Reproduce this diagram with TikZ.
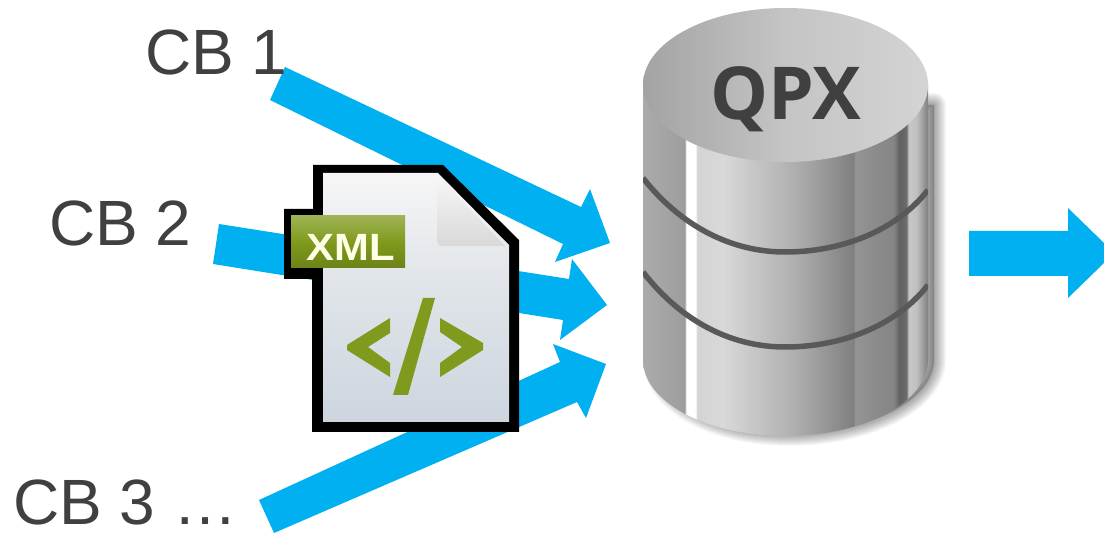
\documentclass[tikz,border=0pt]{standalone}
\usepackage{fontspec}
\setmainfont{Liberation Sans}
\newfontfamily\qpxfont{Open Sans}
\usetikzlibrary{shadings}
\definecolor{arrowblue}{HTML}{00B0F0}
\definecolor{labelgray}{HTML}{404040}
\definecolor{bandgray}{HTML}{58595B}
\definecolor{xmlgreen}{HTML}{7F9A1C}
\definecolor{pagelow}{HTML}{CDD5DF}
\definecolor{pagemid}{HTML}{E2E6EA}
\definecolor{pagetop}{HTML}{F6F6F6}
\pgfdeclarehorizontalshading{cylbody}{100bp}{
 color(0bp)=(black!30);
 color(25bp)=(black!33);
 color(31.9bp)=(black!38);
 color(32.3bp)=(black!40);
 color(32.6bp)=(white);
 color(34.2bp)=(white);
 color(34.5bp)=(black!17);
 color(39bp)=(black!15);
 color(52bp)=(black!32);
 color(62bp)=(black!50);
 color(62.2bp)=(black!42);
 color(69bp)=(black!48);
 color(70bp)=(black!62);
 color(71.2bp)=(black!58);
 color(71.6bp)=(black!22);
 color(73bp)=(black!25);
 color(75bp)=(black!50);
 color(100bp)=(black!50)}
\pgfdeclarehorizontalshading{cyltop}{100bp}{
 color(0bp)=(black!36);
 color(25bp)=(black!36);
 color(50bp)=(black!23);
 color(75bp)=(black!17);
 color(100bp)=(black!17)}
\pgfdeclareverticalshading{pagefill}{100bp}{
 color(0bp)=(pagelow);
 color(25bp)=(pagelow);
 color(55bp)=(pagemid);
 color(75bp)=(pagetop);
 color(100bp)=(pagetop)}
\pgfdeclareverticalshading{tagfill}{100bp}{
 color(0bp)=(xmlgreen!85!black);
 color(25bp)=(xmlgreen!85!black);
 color(50bp)=(xmlgreen);
 color(75bp)=(xmlgreen!75!white);
 color(100bp)=(xmlgreen!75!white)}
\pgfdeclareverticalshading{foldfill}{100bp}{
 color(0bp)=(black!15);
 color(25bp)=(black!15);
 color(75bp)=(black!3);
 color(100bp)=(black!3)}
\tikzset{
 x=1pt,y=-1pt,
 blockarrow/.style={fill=arrowblue,draw=none},
 cblabel/.style={anchor=base west,inner sep=0pt,text=labelgray,font=\fontsize{64}{64}\selectfont},
 band/.style={draw=bandgray,line width=5.5pt},
 glyph/.style={fill=xmlgreen,draw=none},
}
\begin{document}
\begin{tikzpicture}
\useasboundingbox (0,0) rectangle (1104,534);
\fill[white] (0,0) rectangle (1104,534);

% block arrows
\fill[blockarrow] (270,100) -- (285,67) -- (581,207) -- (590,189) -- (610,243) -- (555,262) -- (563,244) -- cycle;
\fill[blockarrow] (219,224) -- (569,279) -- (572,259) -- (607,305) -- (560,340) -- (563,320) -- (213,264) -- cycle;
\fill[blockarrow] (259,500) -- (560,362) -- (553,344) -- (606,364) -- (586,418) -- (577,402) -- (274,533) -- cycle;
\fill[blockarrow] (969,231) -- (1068,231) -- (1068,208) -- (1104,243) -- (1104,263) -- (1068,298) -- (1068,276) -- (969,276) -- cycle;

% labels
\node[cblabel] (cb1) at (145,75) {CB 1};
\node[cblabel] (cb2) at (49,246) {CB 2};
\node[cblabel] (cb3) at (13,525) {CB 3 …};

% soft cylinder shadow
\fill[black,opacity=.2]
  (655,105) -- (655,360) .. controls (655,400) and (712,434) .. (790,434)
  .. controls (868,434) and (934,400) .. (934,360) -- (934,105) -- cycle;
\foreach \w in {2,4,...,24}{
 \draw[black,opacity=.03,line width=\w pt,line join=round]
  (655,105) -- (655,360) .. controls (655,400) and (712,434) .. (790,434)
  .. controls (868,434) and (934,400) .. (934,360) -- (934,105) -- cycle;
}
% cylinder
\shade[shading=cylbody]
  (643,84) -- (643,360) .. controls (643,402) and (707,436) .. (785.5,436)
  .. controls (864,436) and (928,402) .. (928,360) -- (928,84) -- cycle;
\begin{scope}
\clip (643,84) rectangle (928,436);
\draw[band] (643,178) .. controls (680,225) and (730,252) .. (785,252) .. controls (840,252) and (895,232) .. (928,190);
\draw[band] (643,272) .. controls (680,320) and (730,347) .. (785,347) .. controls (840,347) and (895,327) .. (928,285);
\end{scope}
\shade[shading=cyltop] (785.5,85) ellipse [x radius=142.5,y radius=77];
\node[inner sep=0pt,text=labelgray,font=\qpxfont\bfseries\fontsize{73}{73}\selectfont] (qpx) at (786,99) {QPX};

% XML file icon
\fill[black] (313,165) -- (443,165) -- (519,240) -- (519,432) -- (312,432) -- (312,279) -- (284,279) -- (284,209) -- (313,209) -- cycle;
\shade[shading=pagefill] (323,173) -- (438,173) -- (509,245) -- (509,422) -- (323,422) -- cycle;
\shade[shading=foldfill] (437,175) -- (505,246) -- (440,246) -- (437,242) -- cycle;
\shade[shading=tagfill] (291,216) rectangle (405,268);
\node[inner sep=0pt,text=white!90!yellow,xscale=1.1,font=\bfseries\fontsize{38}{38}\selectfont] (xml) at (351,247) {XML};
\fill[glyph] (390,318) -- (347,345) -- (347,350) -- (390,377) -- (390,363) -- (368,347) -- (390,333) -- cycle;
\fill[glyph] (423,298) -- (435,298) -- (408,395) -- (393,395) -- cycle;
\fill[glyph] (440,318) -- (483,343) -- (483,350) -- (440,377) -- (440,363) -- (462,347) -- (440,332) -- cycle;
\end{tikzpicture}
\end{document}
